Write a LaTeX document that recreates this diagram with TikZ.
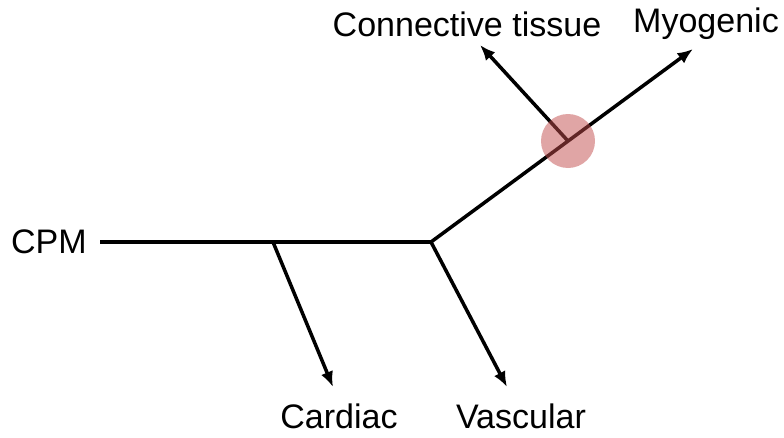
\documentclass[tikz,border=0pt]{standalone}
\usepackage{fontspec}
\setmainfont{Liberation Sans}
\usetikzlibrary{arrows.meta}
\definecolor{LineagePink}{HTML}{C24B4B}
\definecolor{LineageText}{HTML}{000000}

\begin{document}
\begin{tikzpicture}[
  x=0.025cm,y=0.025cm,
  branch/.style={
    line width=2.5pt,
    draw=black
  },
  fate/.style={
    -{Latex[length=11pt,width=9pt]},
    line width=2.5pt,
    draw=black
  },
  fatelabel/.style={
    font=\fontsize{24.2}{28}\selectfont,
    text=LineageText,
    inner sep=0pt
  },
  hotspot/.style={
    circle,
    fill=LineagePink,
    fill opacity=0.5,
    minimum size=54*0.025cm,
    inner sep=0pt
  }
]
\useasboundingbox (0,0) rectangle (784,437);

% -------------------------------------------------
% Branch points
% -------------------------------------------------
\coordinate (jcard) at (273,195);
\coordinate (jvasc) at (431,195);
\coordinate (jconn) at (568,296);

% -------------------------------------------------
% Labels
% -------------------------------------------------
\node[fatelabel, anchor=east] (cpm) at (87,195) {CPM};
\node[fatelabel] (cardiac) at (339,21) {Cardiac};
\node[fatelabel] (vascular) at (521,21) {Vascular};
\node[fatelabel] (conn) at (467,413) {Connective tissue};
\node[fatelabel] (myo) at (706,413) {Myogenic};

% arrow tips, just short of the labels
\coordinate (tcard) at (333,50);
\coordinate (tvasc) at (507,50);
\coordinate (tconn) at (480,392);
\coordinate (tmyo) at (693,388);

% -------------------------------------------------
% Tree
% -------------------------------------------------
\draw[branch] ([xshift=13*0.025cm]cpm.east) -- (jvasc);
\draw[fate] (jcard) -- (tcard);
\draw[fate] (jvasc) -- (tvasc);
\draw[fate] (jvasc) -- (tmyo);
\draw[fate] (jconn) -- (tconn);

\node[hotspot] (spot) at (jconn) {};

\end{tikzpicture}
\end{document}
